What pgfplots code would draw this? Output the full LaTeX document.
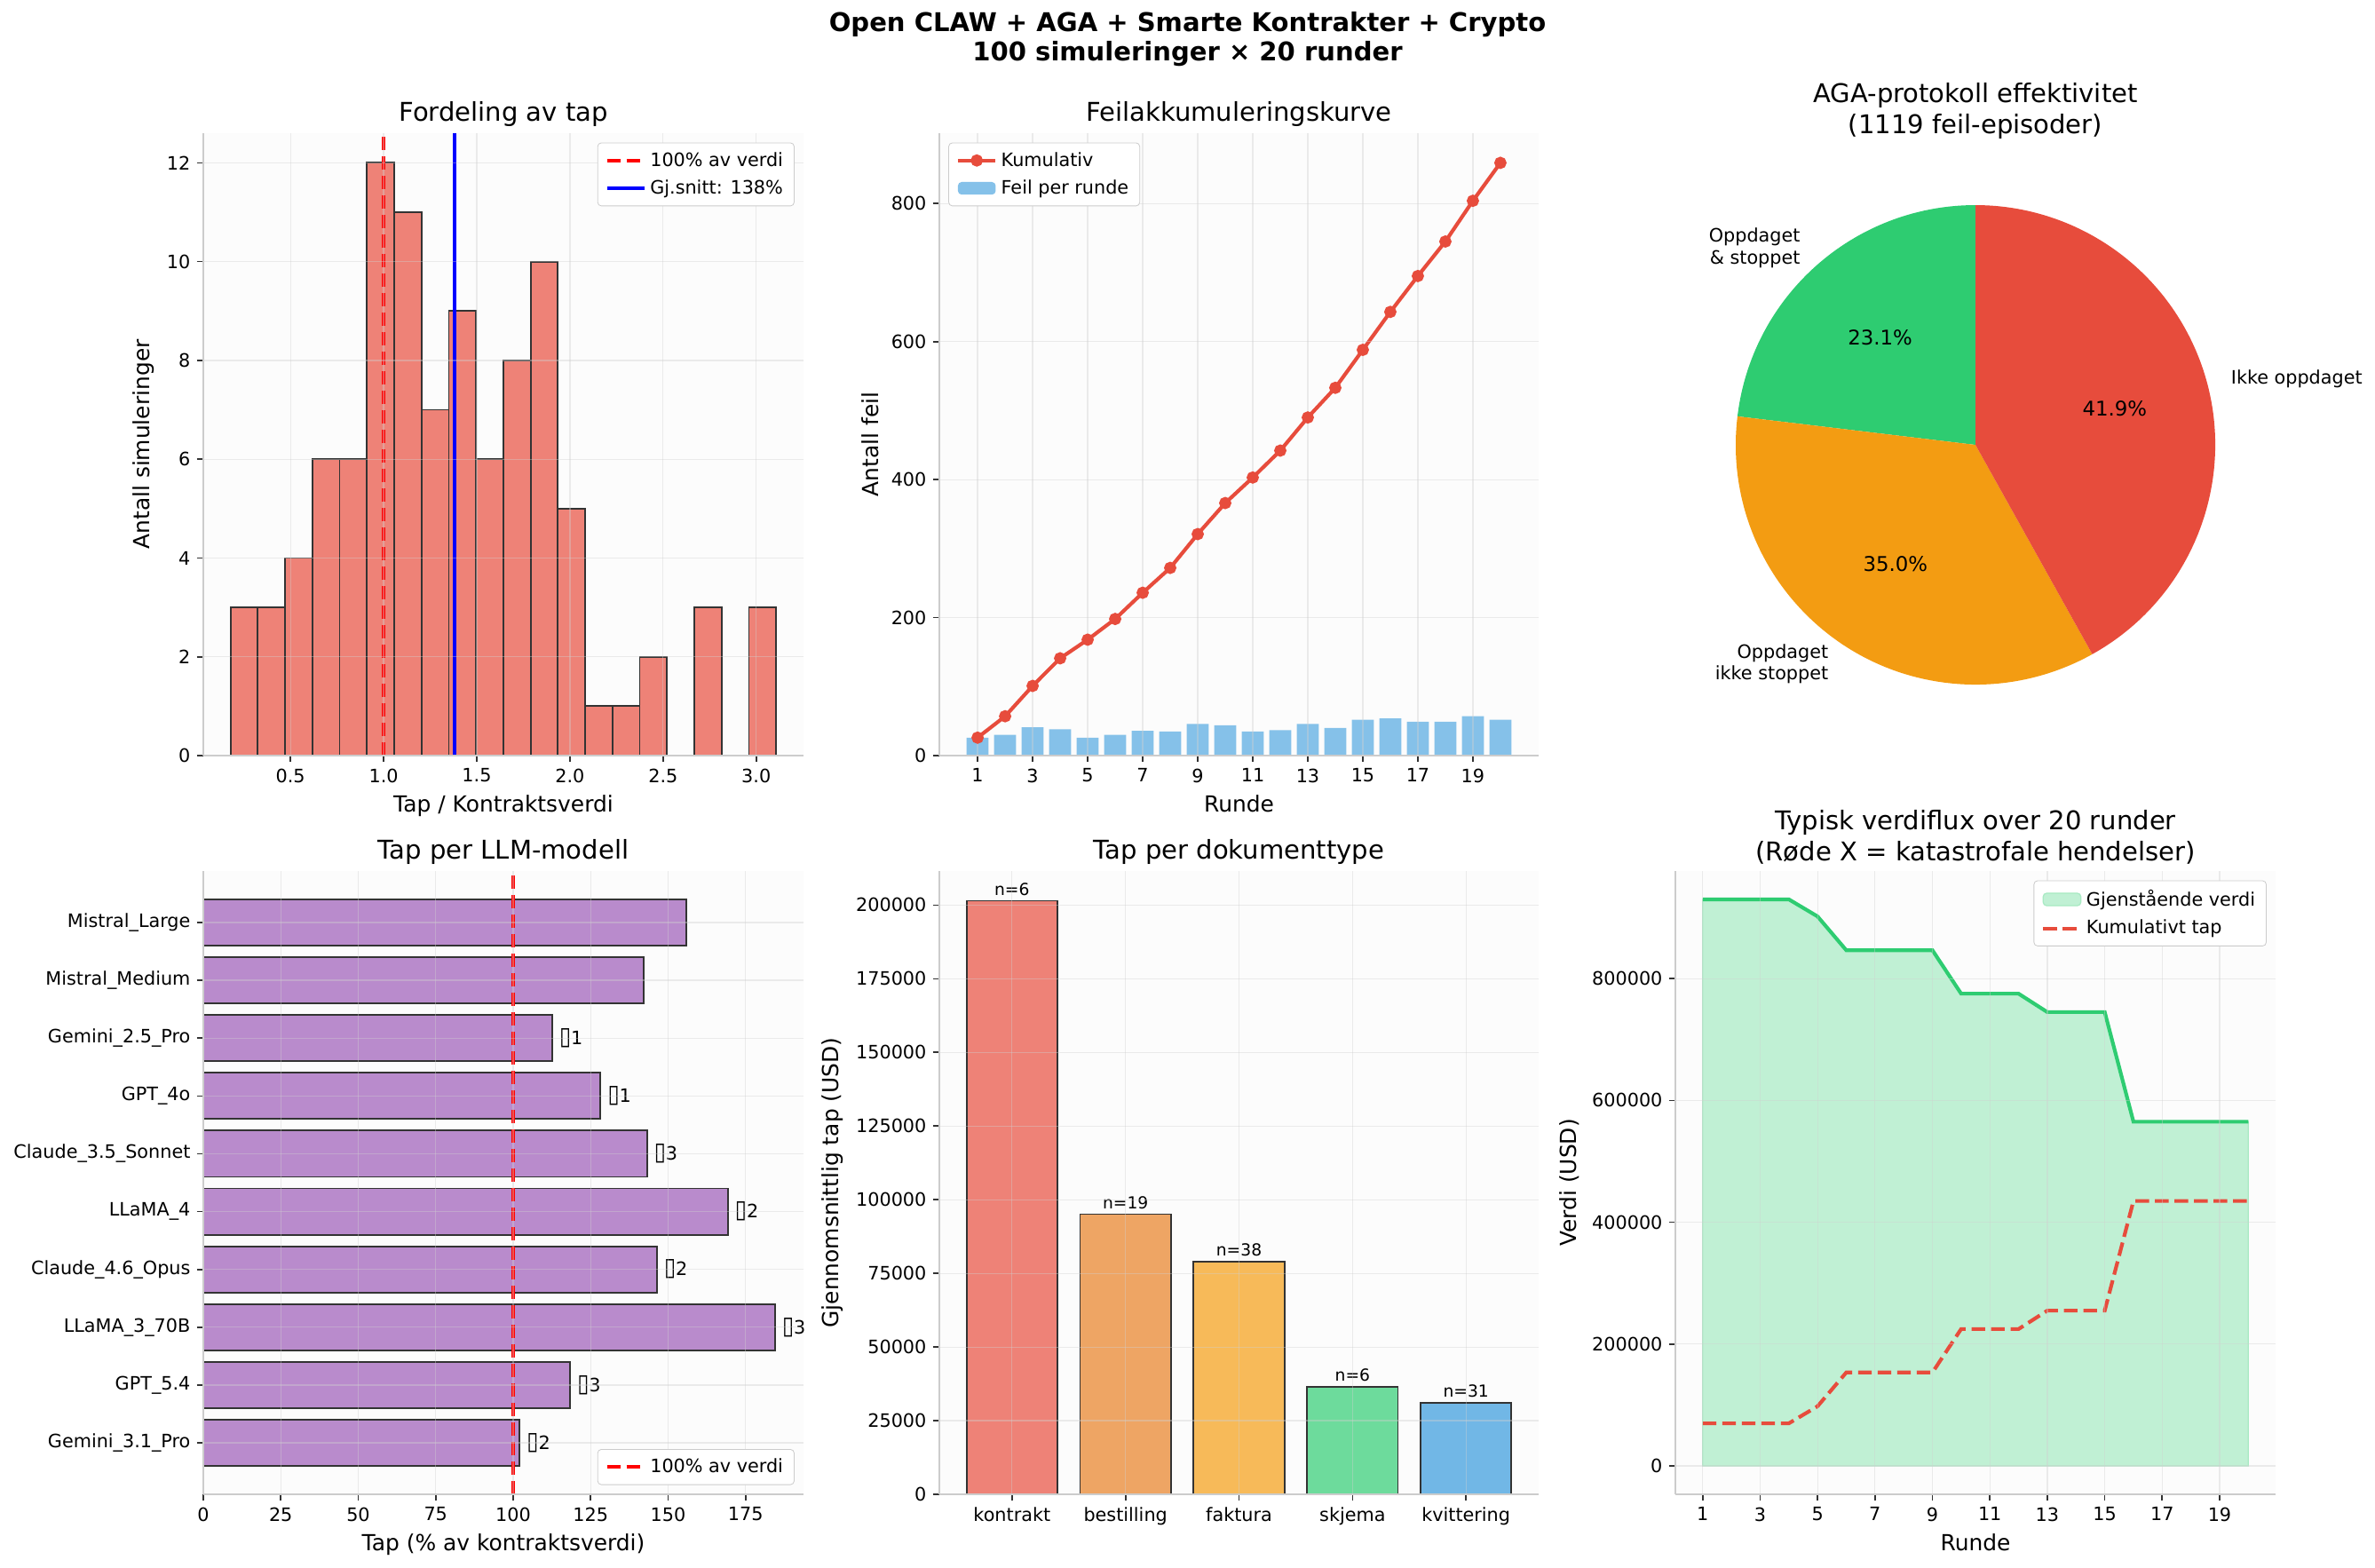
\documentclass[border=0pt]{standalone}
\usepackage{pgfplots}
\pgfplotsset{compat=1.18}
\usepackage{fontspec}
\setmainfont{DejaVu Sans}

\definecolor{axbg}{HTML}{FCFCFC}
\definecolor{spine}{HTML}{CCCCCC}
\definecolor{gridc}{HTML}{D0D0D0}
\definecolor{edgec}{HTML}{333333}
\definecolor{histc}{HTML}{EE8277}
\definecolor{mplred}{HTML}{FF0000}
\definecolor{mplblue}{HTML}{0000FF}
\definecolor{lineRed}{HTML}{E74C3C}
\definecolor{barBlue}{HTML}{85C1E9}
\definecolor{pieG}{HTML}{2ECC71}
\definecolor{pieO}{HTML}{F39C12}
\definecolor{pieR}{HTML}{E74C3C}
\definecolor{purp}{HTML}{B98BCC}
\definecolor{cA}{HTML}{EE8277}
\definecolor{cB}{HTML}{EEA564}
\definecolor{cC}{HTML}{F7BA59}
\definecolor{cD}{HTML}{6DDB9C}
\definecolor{cE}{HTML}{71B7E6}
\definecolor{fillG}{HTML}{C0F0D4}
\definecolor{fillGe}{HTML}{A8EAC3}

\newcommand{\tofu}{\scalebox{1.15}[1.35]{▯}}

\pgfplotsset{
  base/.style={
    scale only axis,
    axis on top,
    axis background/.style={fill=axbg},
    axis lines=left,
    axis line style={-, draw=spine, line width=1pt},
    tick align=outside,
    major tick length=3.5pt,
    tick style={black!80, line width=0.8pt},
    grid=major,
    major grid style={draw=gridc, opacity=0.4, line width=0.6pt},
    tick label style={font=\fontsize{10}{12}\selectfont, text=black},
    label style={font=\fontsize{12}{14}\selectfont},
    title style={font=\fontsize{14}{16.8}\selectfont, align=center, yshift=-6pt},
    /pgf/number format/assume math mode=true,
    legend style={font=\fontsize{10}{12}\selectfont, draw=spine, fill=white,
      rounded corners=2pt, inner xsep=4pt, inner ysep=3pt, row sep=2pt},
    legend cell align=left,
    legend image code/.code={\draw[mark repeat=2,mark phase=2,##1] plot coordinates {(0cm,0cm) (0.36cm,0cm) (0.72cm,0cm)};},
  }
}

\def\pA{23.1}
\def\pB{35.0}
\def\pC{41.9}
\pgfmathsetmacro{\aA}{90+\pA*3.6}
\pgfmathsetmacro{\aB}{\aA+\pB*3.6}
\pgfmathsetmacro{\aC}{\aB+\pC*3.6}
\pgfmathsetmacro{\mA}{(90+\aA)/2}
\pgfmathsetmacro{\mB}{(\aA+\aB)/2}
\pgfmathsetmacro{\mC}{(\aB+\aC)/2}

\begin{document}
\begin{tikzpicture}
\path[use as bounding box] (0,0) rectangle (1288.8pt,-850.4pt);

\node[align=center, font=\bfseries\fontsize{14}{16}\selectfont] at (644.4pt,-21.4pt)
  {Open CLAW + AGA + Smarte Kontrakter + Crypto\\100 simuleringer × 20 runder};

% ---------------- Panel 1: histogram
\begin{axis}[base,
  at={(110.33pt,-72.27pt)}, anchor=north west,
  width=325.7pt, height=337.74pt,
  xmin=0.032, xmax=3.254, ymin=0, ymax=12.6,
  xtick={0.5,1.0,1.5,2.0,2.5,3.0},
  xticklabel style={/pgf/number format/.cd, fixed, fixed zerofill, precision=1},
  ytick={0,2,4,6,8,10,12},
  title={Fordeling av tap},
  xlabel={Tap / Kontraktsverdi},
  ylabel={Antall simuleringer},
  legend style={at={(0.985,0.985)}, anchor=north east},
]
\addplot[ybar, bar width=0.14645, fill=histc, draw=edgec, line width=0.9pt, forget plot]
  coordinates {(0.2512,3) (0.3977,3) (0.5441,4) (0.6906,6) (0.8370,6) (0.9835,12)
  (1.1299,11) (1.2764,7) (1.4228,9) (1.5693,6) (1.7157,8) (1.8622,10) (2.0086,5)
  (2.1551,1) (2.3015,1) (2.4480,2) (2.7409,3) (3.0338,3)};
\addplot[mplred, line width=2pt, dash pattern=on 7.4pt off 3.2pt] coordinates {(1.0,0) (1.0,12.6)};
\addlegendentry{100\% av verdi}
\addplot[mplblue, line width=2pt] coordinates {(1.38,0) (1.38,12.6)};
\addlegendentry{Gj.snitt: 138\%}
\end{axis}

% ---------------- Panel 2: cumulative errors
\begin{axis}[base,
  at={(509.74pt,-72.27pt)}, anchor=north west,
  width=325.21pt, height=337.74pt,
  xmin=-0.39, xmax=21.39, ymin=0, ymax=902,
  xtick={1,3,...,19}, ytick={0,200,400,600,800},
  title={Feilakkumuleringskurve},
  xlabel={Runde}, ylabel={Antall feil},
  legend style={at={(0.015,0.985)}, anchor=north west},
  reverse legend,
]
\addplot[ybar, bar width=0.8, fill=barBlue, draw=none,
  legend image code/.code={\fill[barBlue] (0cm,-0.12cm) rectangle (0.72cm,0.12cm);}]
  coordinates {(1,26) (2,30) (3,41) (4,38) (5,26) (6,30) (7,36) (8,35) (9,46) (10,44)
  (11,35) (12,37) (13,46) (14,40) (15,52) (16,54) (17,49) (18,49) (19,57) (20,52)};
\addlegendentry{Feil per runde}
\addplot[lineRed, line width=2pt, mark=*, mark size=2.3pt, mark options={fill=lineRed, draw=lineRed}]
  coordinates {(1,26) (2,57) (3,101) (4,141) (5,168) (6,198) (7,236) (8,272) (9,321) (10,366)
  (11,403) (12,442) (13,490) (14,533) (15,588) (16,643) (17,695) (18,745) (19,804) (20,859)};
\addlegendentry{Kumulativ}
\end{axis}

% ---------------- Panel 3: pie
\begin{axis}[
  scale only axis, hide axis,
  at={(1072.0pt,-241.4pt)}, anchor=center,
  width=325.2pt, height=325.2pt,
  xmin=-1.25, xmax=1.25, ymin=-1.25, ymax=1.25,
  clip=false,
  title style={font=\fontsize{14}{16.8}\selectfont, align=center, yshift=-6pt},
  title={AGA-protokoll effektivitet\\(1119 feil-episoder)},
]
\addplot[draw=none, forget plot] coordinates {(0,0)};
\fill[pieG] (axis cs:0,0) -- ++(90:130.09pt) arc[start angle=90, end angle=\aA, radius=130.09pt] -- cycle;
\fill[pieO] (axis cs:0,0) -- ++(\aA:130.09pt) arc[start angle=\aA, end angle=\aB, radius=130.09pt] -- cycle;
\fill[pieR] (axis cs:0,0) -- ++(\aB:130.09pt) arc[start angle=\aB, end angle=\aC, radius=130.09pt] -- cycle;
\path (axis cs:0,0) ++(\mA:143.1pt) node[anchor=east, align=right, inner sep=0pt, font=\fontsize{10}{12}\selectfont] {Oppdaget\\\& stoppet};
\path (axis cs:0,0) ++(\mB:143.1pt) node[anchor=east, align=right, inner sep=0pt, font=\fontsize{10}{12}\selectfont] {Oppdaget\\ikke stoppet};
\path (axis cs:0,0) ++(\mC:143.1pt) node[anchor=west, inner sep=0pt, font=\fontsize{10}{12}\selectfont] {Ikke oppdaget};
\path (axis cs:0,0) ++(\mA:78.05pt) node[font=\fontsize{11}{13}\selectfont] {23.1\%};
\path (axis cs:0,0) ++(\mB:78.05pt) node[font=\fontsize{11}{13}\selectfont] {35.0\%};
\path (axis cs:0,0) ++(\mC:78.05pt) node[font=\fontsize{11}{13}\selectfont] {41.9\%};
\end{axis}

% ---------------- Panel 4: loss per LLM model
\begin{axis}[base,
  at={(110.33pt,-472.65pt)}, anchor=north west,
  width=325.7pt, height=338.22pt,
  xmin=0, xmax=193.7, ymin=-0.89, ymax=9.89,
  clip=false,
  xtick={0,25,50,75,100,125,150,175},
  ytick={0,...,9},
  yticklabels={Gemini\_3.1\_Pro, GPT\_5.4, LLaMA\_3\_70B, Claude\_4.6\_Opus, LLaMA\_4,
    Claude\_3.5\_Sonnet, GPT\_4o, Gemini\_2.5\_Pro, Mistral\_Medium, Mistral\_Large},
  title={Tap per LLM-modell},
  xlabel={Tap (\% av kontraktsverdi)},
  legend style={at={(0.985,0.015)}, anchor=south east},
]
\addplot[xbar, bar width=0.8, fill=purp, draw=edgec, line width=0.9pt, forget plot]
  coordinates {(102.1,0) (118.4,1) (184.5,2) (146.4,3) (169.3,4) (143.2,5) (128.2,6) (112.6,7) (142.0,8) (155.9,9)};
\addplot[mplred, line width=2pt, dash pattern=on 7.4pt off 3.2pt] coordinates {(100,-0.89) (100,9.89)};
\addlegendentry{100\% av verdi}
\begin{scope}[every node/.style={anchor=west, inner sep=0pt, font=\fontsize{10}{12}\selectfont}]
\node at (axis cs:104.3,0) {\tofu2};
\node at (axis cs:120.6,1) {\tofu3};
\node at (axis cs:186.7,2) {\tofu3};
\node at (axis cs:148.6,3) {\tofu2};
\node at (axis cs:171.5,4) {\tofu2};
\node at (axis cs:145.4,5) {\tofu3};
\node at (axis cs:130.4,6) {\tofu1};
\node at (axis cs:114.8,7) {\tofu1};
\end{scope}
\end{axis}

% ---------------- Panel 5: loss per document type
\begin{axis}[base,
  at={(509.74pt,-472.65pt)}, anchor=north west,
  width=325.21pt, height=338.22pt,
  xmin=-0.64, xmax=4.64, ymin=0, ymax=211575,
  clip=false,
  xtick={0,...,4},
  xticklabels={kontrakt, bestilling, faktura, skjema, kvittering},
  ytick={0,25000,50000,75000,100000,125000,150000,175000,200000},
  scaled y ticks=false,
  yticklabel style={/pgf/number format/.cd, fixed, 1000 sep={}},
  title={Tap per dokumenttype},
  ylabel={Gjennomsnittlig tap (USD)},
]
\addplot[ybar, bar width=0.8, fill=cA, draw=edgec, line width=0.9pt] coordinates {(0,201500)};
\addplot[ybar, bar width=0.8, fill=cB, draw=edgec, line width=0.9pt] coordinates {(1,95100)};
\addplot[ybar, bar width=0.8, fill=cC, draw=edgec, line width=0.9pt] coordinates {(2,79100)};
\addplot[ybar, bar width=0.8, fill=cD, draw=edgec, line width=0.9pt] coordinates {(3,36600)};
\addplot[ybar, bar width=0.8, fill=cE, draw=edgec, line width=0.9pt] coordinates {(4,31100)};
\begin{scope}[every node/.style={anchor=south, inner sep=0pt, yshift=2.5pt, font=\fontsize{9}{11}\selectfont}]
\node at (axis cs:0,201500) {n=6};
\node at (axis cs:1,95100) {n=19};
\node at (axis cs:2,79100) {n=38};
\node at (axis cs:3,36600) {n=6};
\node at (axis cs:4,31100) {n=31};
\end{scope}
\end{axis}

% ---------------- Panel 6: value flux
\begin{axis}[base,
  at={(909.16pt,-472.65pt)}, anchor=north west,
  width=325.7pt, height=338.22pt,
  xmin=0.05, xmax=20.95, ymin=-46500, ymax=976500,
  xtick={1,3,...,19},
  ytick={0,200000,400000,600000,800000},
  scaled y ticks=false,
  yticklabel style={/pgf/number format/.cd, fixed, 1000 sep={}},
  title={Typisk verdiflux over 20 runder\\(Røde X = katastrofale hendelser)},
  xlabel={Runde}, ylabel={Verdi (USD)},
  legend style={at={(0.985,0.985)}, anchor=north east},
]
\addplot[fill=fillG, draw=fillGe, line width=0.6pt,
  legend image code/.code={\draw[fill=fillG, draw=fillGe] (0cm,-0.12cm) rectangle (0.72cm,0.12cm);}]
  coordinates {(1,930000) (2,930000) (3,930000) (4,930000) (5,902000) (6,846500) (7,846500) (8,846500)
  (9,846500) (10,775200) (11,775200) (12,775200) (13,745000) (14,745000) (15,745000) (16,565000)
  (17,565000) (18,565000) (19,565000) (20,565000)} \closedcycle;
\addlegendentry{Gjenstående verdi}
\addplot[pieG, line width=2pt, forget plot]
  coordinates {(1,930000) (2,930000) (3,930000) (4,930000) (5,902000) (6,846500) (7,846500) (8,846500)
  (9,846500) (10,775200) (11,775200) (12,775200) (13,745000) (14,745000) (15,745000) (16,565000)
  (17,565000) (18,565000) (19,565000) (20,565000)};
\addplot[lineRed, line width=2pt, dash pattern=on 7.4pt off 3.2pt]
  coordinates {(1,70000) (2,70000) (3,70000) (4,70000) (5,98000) (6,153500) (7,153500) (8,153500)
  (9,153500) (10,224800) (11,224800) (12,224800) (13,255000) (14,255000) (15,255000) (16,435000)
  (17,435000) (18,435000) (19,435000) (20,435000)};
\addlegendentry{Kumulativt tap}
\end{axis}

\end{tikzpicture}
\end{document}
